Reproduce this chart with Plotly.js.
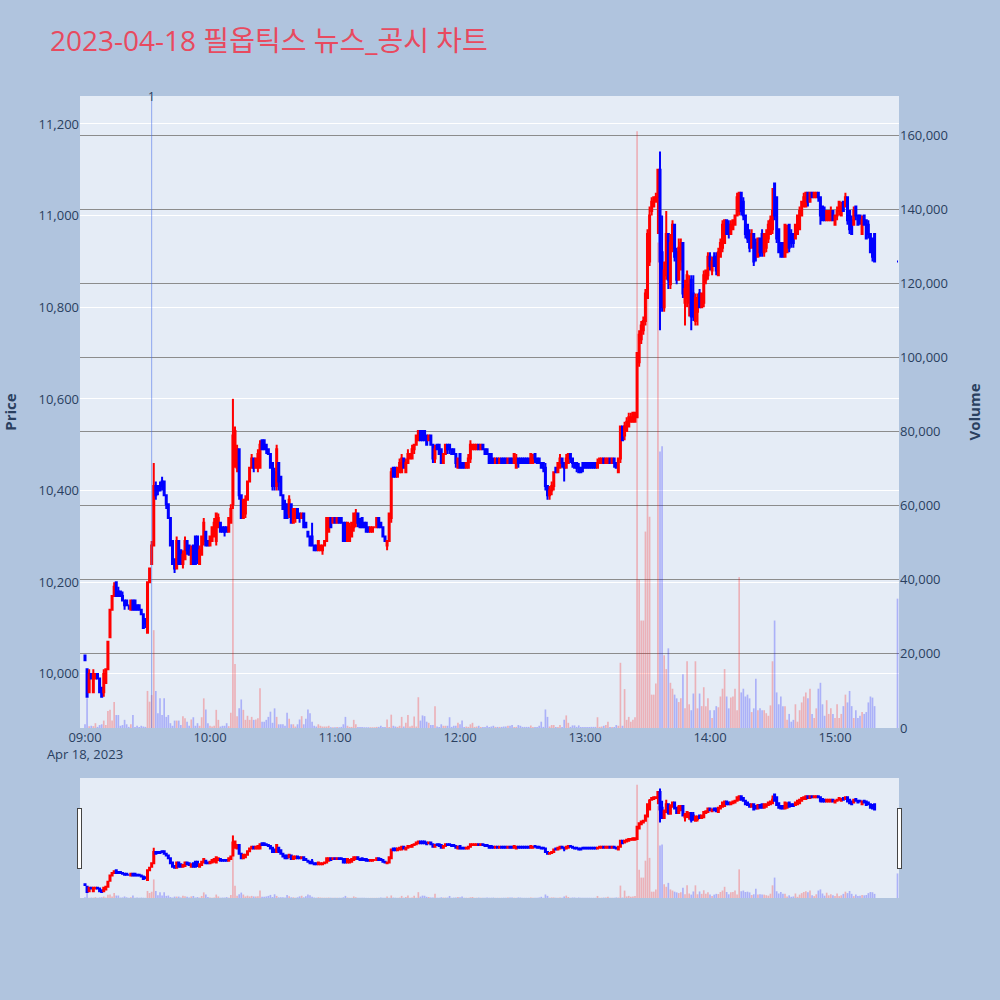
<!DOCTYPE html>
<html>
<head>
<meta charset="utf-8">
<script src="https://cdn.plot.ly/plotly-3.0.1.min.js"></script>
<style>html,body{margin:0;padding:0;background:#b0c4de;}</style>
</head>
<body>
<div id="chart" style="width:1000px;height:1000px;"></div>
<script>
const tradeDate = '2023-04-18';
const titleText = '2023-04-18 필옵틱스 뉴스_공시 차트';
const closingAuctionTime = '15:30';
const newsTime = '09:32';
const newsLabel = '1';

// one-minute bars 09:00 .. 15:19, then the 15:30 closing auction bar
const open = [
10040,10010,9960,10000,9960,9990,10000,9990,9970,9960,
9980,10010,10080,10140,10170,10200,10180,10180,10170,10160,
10160,10150,10140,10160,10160,10150,10150,10140,10130,10120,
10090,10200,10240,10280,10410,10410,10410,10420,10420,10390,
10370,10340,10290,10250,10230,10290,10270,10240,10250,10290,
10280,10240,10280,10300,10300,10240,10260,10290,10310,10290,
10280,10290,10300,10290,10320,10330,10320,10320,10320,10310,
10330,10370,10460,10450,10490,10390,10340,10350,10380,10420,
10450,10470,10450,10450,10450,10510,10510,10500,10490,10480,
10460,10440,10410,10460,10430,10390,10370,10370,10350,10370,
10330,10340,10360,10350,10340,10350,10330,10310,10300,10300,
10280,10280,10270,10270,10270,10280,10290,10310,10340,10330,
10340,10330,10340,10340,10330,10330,10290,10290,10300,10320,
10330,10350,10330,10340,10330,10330,10320,10310,10310,10320,
10320,10340,10330,10320,10300,10280,10290,10340,10450,10450,
10430,10440,10440,10470,10440,10460,10470,10470,10490,10500,
10510,10530,10530,10530,10520,10510,10520,10500,10470,10500,
10500,10490,10460,10480,10500,10500,10490,10490,10480,10450,
10480,10460,10460,10450,10450,10470,10490,10490,10490,10500,
10490,10500,10490,10490,10480,10480,10470,10460,10470,10460,
10470,10470,10470,10460,10470,10470,10460,10450,10470,10470,
10470,10470,10470,10470,10460,10460,10480,10470,10470,10460,
10460,10450,10410,10390,10400,10410,10450,10440,10450,10470,
10460,10450,10460,10480,10470,10460,10460,10450,10450,10460,
10460,10460,10460,10460,10460,10460,10450,10460,10460,10470,
10460,10460,10470,10460,10470,10460,10440,10470,10540,10520,
10530,10540,10550,10550,10550,10560,10680,10730,10750,10770,
10820,10900,11010,11020,11030,11040,11100,10920,10800,10870,
10960,10850,10930,10980,10920,10860,10900,10940,10810,10820,
10810,10860,10830,10770,10790,10830,10800,10810,10860,10870,
10910,10880,10910,10910,10870,10910,10930,10940,10990,10980,
10960,10970,10980,11000,11010,11050,11030,11000,10980,10960,
10930,10960,10940,10910,10950,10960,10920,10930,10950,10960,
10970,11070,11040,10970,10940,10940,10910,10920,10980,10960,
10960,10950,10960,10970,11000,11020,11020,11050,11030,11050,
11040,11040,11050,11040,11020,11010,10990,10990,10990,11010,
10980,11000,11010,11000,11030,11020,11040,11010,10990,10980,
11020,11000,11000,10960,11000,10990,10980,10960,10950,10960,
10900];

const high = [
10040,10010,10010,10000,10010,10000,10000,9990,9970,10010,
10010,10070,10140,10170,10200,10200,10190,10180,10180,10160,
10160,10150,10160,10160,10160,10150,10150,10140,10130,10120,
10200,10230,10290,10460,10420,10410,10420,10430,10420,10390,
10370,10340,10290,10250,10300,10290,10270,10270,10300,10290,
10280,10280,10280,10300,10300,10280,10300,10340,10310,10290,
10300,10320,10340,10350,10350,10330,10320,10320,10320,10340,
10370,10600,10540,10500,10490,10390,10380,10390,10420,10450,
10480,10470,10470,10490,10510,10510,10510,10500,10490,10480,
10460,10450,10500,10460,10430,10390,10380,10370,10390,10370,
10360,10360,10360,10350,10350,10350,10330,10310,10300,10330,
10280,10280,10290,10280,10280,10290,10340,10340,10340,10340,
10340,10340,10340,10340,10330,10330,10330,10330,10330,10350,
10360,10350,10340,10340,10330,10330,10320,10320,10320,10320,
10340,10340,10330,10320,10300,10290,10350,10450,10450,10450,
10450,10470,10480,10470,10470,10490,10480,10500,10500,10520,
10530,10530,10530,10530,10520,10520,10520,10500,10500,10500,
10500,10490,10480,10500,10500,10500,10490,10490,10480,10470,
10480,10460,10460,10460,10480,10510,10500,10500,10500,10500,
10500,10500,10490,10490,10480,10480,10470,10470,10470,10470,
10470,10470,10470,10470,10470,10470,10480,10480,10470,10470,
10470,10470,10470,10470,10480,10480,10480,10470,10470,10460,
10460,10460,10410,10410,10420,10440,10450,10460,10480,10470,
10460,10480,10480,10480,10470,10460,10460,10460,10450,10460,
10460,10460,10460,10460,10460,10460,10470,10470,10470,10470,
10470,10470,10470,10470,10470,10460,10470,10540,10540,10550,
10560,10570,10570,10570,10570,10700,10750,10770,10780,10840,
10970,11020,11040,11040,11050,11100,11140,11000,10900,11010,
10960,10960,10990,10980,10930,10950,10950,10940,10860,10880,
10870,10870,10870,10830,10830,10840,10830,10880,10880,10920,
10920,10910,10920,10920,10930,10950,10990,10990,10990,10990,
10990,10990,11000,11050,11050,11050,11040,11000,10980,10970,
10970,10960,10950,10950,10950,10970,10960,10970,10990,11000,
11060,11070,11040,10970,10940,10940,10980,10980,10980,10970,
10960,10980,11000,11020,11030,11050,11050,11050,11050,11050,
11050,11050,11050,11040,11020,11020,11010,11010,11020,11010,
11000,11020,11030,11030,11030,11050,11040,11010,11000,11020,
11020,11000,11000,11000,11000,10990,10990,10960,10950,10960,
10900];

const low = [
10030,9950,9960,9990,9960,9990,9990,9960,9950,9950,
9980,10010,10080,10140,10170,10170,10170,10170,10160,10140,
10150,10140,10140,10140,10140,10140,10140,10130,10100,10100,
10090,10200,10240,10280,10380,10390,10400,10400,10390,10360,
10340,10280,10240,10220,10230,10240,10240,10230,10250,10260,
10260,10240,10240,10240,10240,10240,10260,10280,10280,10280,
10280,10290,10300,10280,10320,10310,10310,10300,10310,10310,
10330,10360,10450,10440,10380,10340,10340,10340,10380,10420,
10450,10440,10450,10440,10450,10490,10490,10480,10480,10450,
10400,10400,10400,10400,10390,10360,10340,10340,10340,10330,
10330,10330,10340,10330,10340,10320,10320,10300,10280,10280,
10270,10270,10270,10270,10260,10280,10290,10310,10320,10330,
10330,10330,10330,10330,10290,10290,10290,10290,10300,10310,
10320,10320,10320,10320,10320,10310,10310,10310,10310,10320,
10320,10320,10320,10300,10290,10270,10290,10330,10430,10430,
10430,10440,10440,10450,10440,10460,10470,10470,10480,10500,
10510,10510,10510,10510,10500,10510,10500,10460,10460,10490,
10480,10460,10460,10480,10480,10480,10480,10480,10450,10450,
10450,10450,10450,10450,10450,10460,10490,10490,10490,10490,
10490,10490,10480,10480,10460,10460,10460,10460,10460,10460,
10460,10460,10460,10460,10460,10460,10460,10450,10450,10460,
10460,10460,10460,10460,10460,10460,10460,10460,10460,10450,
10440,10400,10380,10380,10390,10400,10440,10440,10450,10450,
10420,10450,10460,10460,10450,10450,10440,10440,10440,10440,
10450,10450,10450,10450,10450,10450,10450,10460,10460,10460,
10460,10460,10460,10460,10450,10450,10440,10460,10510,10510,
10530,10540,10550,10550,10550,10560,10670,10720,10740,10760,
10820,10890,11000,11020,11030,10960,10750,10790,10790,10860,
10840,10840,10920,10900,10850,10860,10880,10820,10760,10800,
10780,10750,10770,10760,10760,10800,10800,10800,10850,10860,
10880,10870,10890,10870,10870,10910,10920,10940,10960,10950,
10960,10970,10980,11000,11000,11000,10990,10950,10940,10920,
10930,10890,10900,10910,10910,10910,10910,10920,10940,10960,
10960,10990,10940,10920,10910,10910,10910,10920,10920,10930,
10930,10950,10960,10970,11000,11020,11020,11020,11030,11040,
11040,11040,11030,10980,10990,10990,10990,10990,10990,10990,
10980,10990,11000,11000,11010,11020,10980,10960,10960,10980,
10990,10980,10980,10960,10980,10950,10950,10920,10900,10900,
10900];

const close = [
10030,9950,10000,9990,10000,10000,9990,9960,9950,10000,
10010,10070,10140,10170,10190,10170,10170,10170,10160,10150,
10150,10150,10160,10140,10140,10140,10140,10130,10100,10110,
10200,10230,10280,10410,10390,10400,10400,10410,10390,10370,
10340,10280,10240,10230,10290,10240,10240,10260,10290,10270,
10260,10270,10240,10240,10250,10270,10300,10330,10280,10280,
10300,10320,10330,10350,10340,10310,10310,10310,10310,10340,
10360,10520,10530,10490,10390,10340,10380,10380,10420,10450,
10470,10450,10470,10480,10500,10490,10490,10490,10480,10450,
10410,10410,10490,10420,10390,10360,10340,10340,10380,10330,
10360,10360,10340,10340,10350,10320,10320,10300,10280,10280,
10270,10270,10290,10280,10280,10290,10340,10340,10320,10340,
10330,10340,10330,10330,10290,10290,10330,10320,10330,10350,
10350,10330,10320,10320,10320,10310,10310,10320,10320,10320,
10340,10320,10320,10300,10290,10290,10350,10440,10430,10430,
10450,10460,10470,10450,10460,10480,10480,10490,10500,10520,
10530,10510,10510,10510,10500,10520,10500,10470,10490,10490,
10480,10460,10480,10500,10490,10490,10480,10480,10460,10470,
10450,10450,10450,10460,10470,10500,10500,10500,10500,10490,
10500,10490,10480,10480,10460,10460,10460,10470,10460,10470,
10460,10460,10460,10470,10460,10460,10480,10470,10460,10460,
10460,10460,10460,10460,10480,10470,10470,10460,10460,10450,
10450,10410,10390,10400,10410,10440,10440,10460,10470,10460,
10450,10470,10480,10470,10460,10450,10450,10440,10440,10450,
10450,10450,10450,10450,10450,10450,10460,10470,10470,10460,
10470,10470,10460,10470,10460,10450,10470,10540,10510,10540,
10550,10560,10560,10570,10570,10700,10740,10760,10770,10830,
10960,11000,11030,11040,11040,11100,10900,10800,10880,10960,
10860,10940,10980,10910,10860,10930,10940,10830,10840,10870,
10850,10780,10780,10820,10820,10800,10830,10870,10880,10910,
10890,10900,10890,10880,10920,10940,10980,10990,10960,10960,
10980,10990,11000,11040,11050,11010,11000,10960,10950,10930,
10960,10900,10910,10950,10920,10920,10960,10960,10980,10990,
11010,11000,10950,10920,10910,10910,10980,10970,10930,10940,
10940,10980,11000,11010,11030,11040,11050,11030,11050,11040,
11050,11050,11040,11000,10990,10990,11010,11010,11010,10990,
11000,11010,11030,11020,11010,11040,10990,10970,10960,11010,
11000,10980,10990,10990,10980,10950,10960,10920,10910,10900,
10900];

const volume = [
1000,8000,500,600,500,1300,300,800,1000,2000,
800,4600,4900,2000,7000,3500,3500,600,800,2200,
1000,300,1000,3500,300,600,300,600,400,300,
10000,7100,8900,26400,10000,4000,8000,3500,8000,3000,
3500,1300,600,2000,2000,2000,800,3200,2600,1700,
600,2300,2900,600,1300,600,2900,8000,5000,1300,
600,400,600,4900,2200,400,600,600,1300,500,
4100,89000,17300,3200,5300,7700,4900,2200,3300,2200,
3000,2200,2300,2600,10700,1700,1700,2200,3000,4400,
1400,5300,3000,1000,1000,1000,600,4100,2500,1000,
1000,400,1000,2300,3200,1000,2500,5000,4000,1700,
600,400,1000,600,400,400,400,600,200,200,
200,300,200,300,1000,3000,600,300,300,2200,
1000,300,300,300,200,200,200,200,200,200,
300,300,600,300,300,2300,300,3600,600,400,
300,600,3000,400,1400,3500,400,600,3100,400,
8300,2000,3400,3200,1700,1400,800,800,5900,400,
300,1000,600,600,600,2900,300,600,600,1400,
1000,2000,300,400,300,1000,1400,300,400,600,
300,300,300,600,300,400,600,300,300,300,
300,400,400,600,600,800,300,300,800,600,
300,300,300,300,700,300,300,300,600,1700,
300,5000,3000,400,800,800,300,300,800,300,
2200,3400,1400,300,700,700,300,700,300,300,
300,300,300,300,300,300,2900,300,400,600,
800,1700,300,300,300,800,600,17600,600,10500,
2200,3000,1700,2200,2900,161000,40000,29000,29000,53000,
125000,57000,9000,9000,12000,131000,74600,76000,19600,15900,
21500,12200,10600,9000,8000,7000,8000,14500,5300,18000,
6400,4800,9300,18000,5300,9300,5900,11000,5900,8000,
4800,2700,4800,5900,5600,8500,10600,15900,8500,5300,
8200,8500,10600,4800,40700,9600,10600,8500,9000,8000,
4300,5300,13300,4800,5300,4800,4800,4000,3300,6100,
18000,29000,9600,6400,8500,5900,5900,2200,3800,1700,
2200,6400,1700,4800,6900,8500,9600,8000,10600,3800,
2700,5300,10600,12200,6400,3300,7500,3800,5300,3800,
2700,6400,2700,3800,5900,9000,6900,10000,5900,2700,
4800,2700,3300,4300,3800,4300,6900,8500,8200,5900,
34900];

// timestamps: consecutive minutes from 09:00, plus the closing auction
const times = [];
for (let m = 0; m < open.length - 1; m++) {
  const h = 9 + Math.floor(m / 60), mm = m % 60;
  times.push(tradeDate + ' ' + String(h).padStart(2, '0') + ':' + String(mm).padStart(2, '0'));
}
times.push(tradeDate + ' ' + closingAuctionTime);

// bar colour follows candle direction (same rule plotly uses for o == c)
const volColors = [];
let prevInc = false;
for (let i = 0; i < open.length; i++) {
  let inc;
  if (close[i] > open[i]) inc = true;
  else if (close[i] < open[i]) inc = false;
  else if (i > 0 && close[i] > close[i - 1]) inc = true;
  else if (i > 0 && close[i] < close[i - 1]) inc = false;
  else inc = prevInc;
  prevInc = inc;
  volColors.push(inc ? 'rgba(255,0,0,0.25)' : 'rgba(0,0,255,0.25)');
}

const xRange = [tradeDate + ' 08:57:36', tradeDate + ' 15:30:43'];

const traces = [
  {
    type: 'candlestick', x: times, open: open, high: high, low: low, close: close,
    increasing: {line: {color: 'red', width: 2}, fillcolor: 'red'},
    decreasing: {line: {color: 'blue', width: 2}, fillcolor: 'blue'},
    yaxis: 'y', name: 'Price', showlegend: false
  },
  {
    type: 'bar', x: times, y: volume, yaxis: 'y2', name: 'Volume',
    marker: {color: volColors, line: {width: 0}}, showlegend: false
  }
];

const layout = {
  width: 1000, height: 1000,
  paper_bgcolor: '#b0c4de', plot_bgcolor: '#e5ecf6',
  font: {family: '"Open Sans", "Noto Sans CJK KR", sans-serif', color: '#2a3f5f', size: 13},
  title: {text: titleText, x: 0.05, xanchor: 'left', y: 0.959, yanchor: 'middle',
          font: {size: 28, color: '#e84a5f'}},
  margin: {l: 80, r: 101, t: 96, b: 102},
  showlegend: false,
  xaxis: {
    type: 'date', range: xRange, autorange: false, showgrid: false, zeroline: false,
    tickfont: {size: 13},
    rangeslider: {visible: true, thickness: 0.1496, bgcolor: '#e5ecf6', range: xRange, autorange: false}
  },
  yaxis: {
    title: {text: '<b>Price</b>', font: {size: 15}, standoff: 22},
    range: [9882, 11261], dtick: 200, tickformat: ',d',
    gridcolor: 'white', zeroline: false, tickfont: {size: 13}
  },
  yaxis2: {
    title: {text: '<b>Volume</b>', font: {size: 15}, standoff: 22},
    overlaying: 'y', side: 'right', range: [0, 170523], dtick: 20000, tickformat: ',d',
    showgrid: true, gridcolor: '#8c8c8c', zeroline: false, tickfont: {size: 13}
  },
  shapes: [{
    type: 'line', xref: 'x', yref: 'paper',
    x0: tradeDate + ' ' + newsTime, x1: tradeDate + ' ' + newsTime, y0: 0, y1: 1,
    line: {color: 'rgba(70,110,235,0.55)', width: 1}
  }],
  annotations: [{
    xref: 'x', yref: 'paper', x: tradeDate + ' ' + newsTime, y: 1,
    text: newsLabel, showarrow: false, yanchor: 'middle', xanchor: 'center',
    font: {size: 12, color: '#2a3f5f'}
  }]
};

Plotly.newPlot('chart', traces, layout, {displayModeBar: false, responsive: false});
</script>
</body>
</html>
